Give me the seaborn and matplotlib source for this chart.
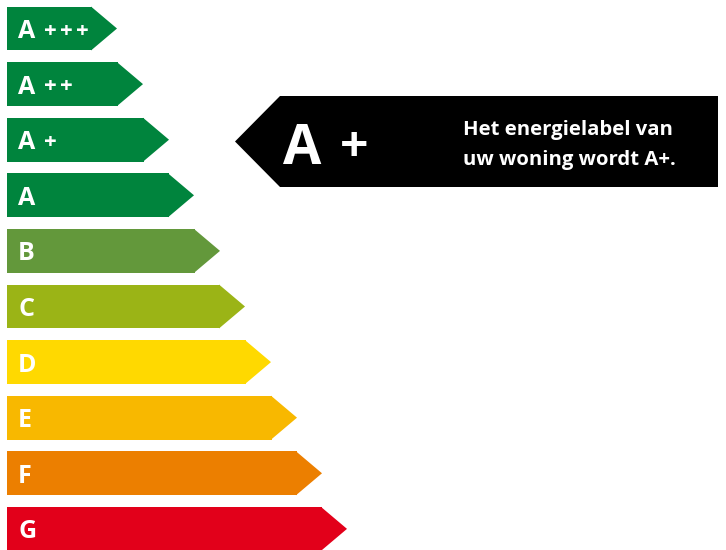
import matplotlib
matplotlib.use("Agg")
import matplotlib.pyplot as plt
from matplotlib.patches import Polygon
import seaborn as sns

sns.set_theme(style="white")
plt.rcParams["font.family"] = ["Open Sans", "DejaVu Sans"]

# energy classes, top to bottom
letters = ["A", "A", "A", "A", "B", "C", "D", "E", "F", "G"]
pluses = ["+++", "++", "+", "", "", "", "", "", "", ""]
labels = ["A+++", "A++", "A+", "A", "B", "C", "D", "E", "F", "G"]
lengths = [85, 111, 137, 162, 188, 213, 239, 265, 290, 315]
colors = ["#00843d", "#00843d", "#00843d", "#00843d", "#63983b",
          "#9bb416", "#ffd900", "#f8b800", "#ec7f00", "#e2001a"]

current_letter = "A"
current_plus = "+"
message = ["Het energielabel van", "uw woning wordt A+."]

fig = plt.figure(figsize=(7.26, 5.5), dpi=100)
ax = fig.add_axes([0, 0, 1, 1])

sns.barplot(x=lengths, y=labels, hue=labels, palette=colors, legend=False,
            orient="h", width=0.79, saturation=1, linewidth=0, ax=ax)

ax.set_xlim(-7, 719)
ax.set_ylim(9.38, -0.513)
ax.axis("off")

# arrow tips and class labels
tip = 25
for bar, col, let, pl in zip(ax.patches, colors, letters, pluses):
    x1 = bar.get_width()
    y0 = bar.get_y()
    h = bar.get_height()
    ax.add_patch(Polygon([(x1 - 1, y0), (x1 + tip, y0 + h / 2), (x1 - 1, y0 + h)],
                         closed=True, color=col, lw=0))
    yc = y0 + h / 2
    ax.text(11, yc, let, color="white", fontsize=18, fontweight="bold",
            va="center_baseline", ha="left")
    for k, p in enumerate(pl):
        ax.text(43.5 + 16 * k, yc, p, color="white", fontsize=16,
                fontweight="bold", va="center_baseline", ha="center")

# black callout arrow for the current class
ov = fig.add_axes([0, 0, 1, 1], facecolor="none")
ov.set_xlim(0, 726)
ov.set_ylim(550, 0)
ov.axis("off")
ov.add_patch(Polygon([(235, 141.5), (280, 96), (718, 96), (718, 187), (280, 187)],
                     closed=True, color="black", lw=0))
ov.text(283, 143, current_letter, color="white", fontsize=40, fontweight="bold",
        va="center_baseline", ha="left")
ov.text(340, 143, current_plus, color="white", fontsize=36, fontweight="bold",
        va="center_baseline", ha="left")
for i, line in enumerate(message):
    ov.text(463, 135 + 30 * i, line, color="white", fontsize=14.6,
            fontweight="bold", va="baseline", ha="left")

fig.savefig("out.png", dpi=100)
